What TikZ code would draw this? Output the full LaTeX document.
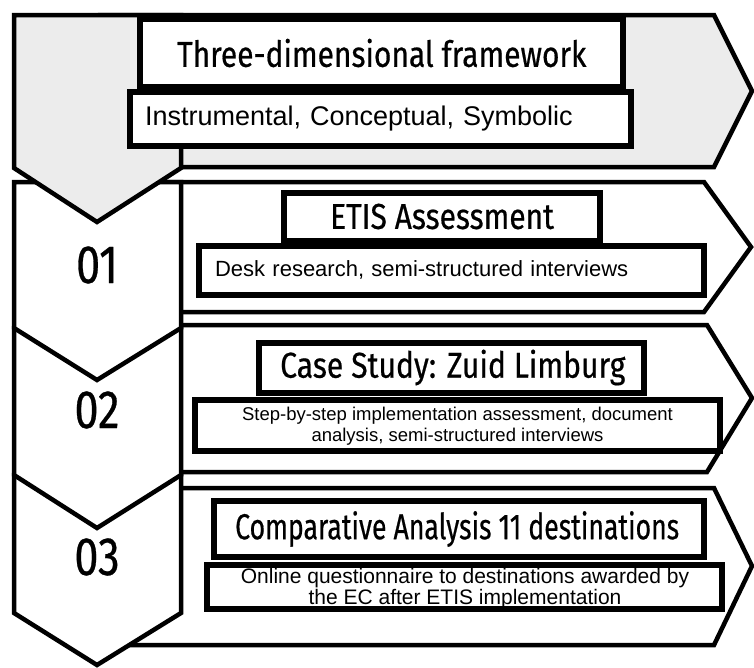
\documentclass[tikz,border=0pt]{standalone}
\usepackage{fontspec}
\setmainfont{Liberation Sans}
\newfontfamily\condfont[FakeStretch=0.80, FakeBold=0.5]{Fira Sans}

\newlength{\du}
\setlength{\du}{1pt}

\definecolor{shadecolor}{rgb}{0.925000, 0.925000, 0.925000}

\tikzset{
  shell/.style={draw=black, fill=white, line width=4.5\du, line join=miter},
  greyshell/.style={shell, fill=shadecolor},
  headbox/.style={draw=black, fill=white, line width=6\du, inner sep=0pt},
  headtext/.style={anchor=west, inner sep=0pt, font=\condfont\fontsize{36\du}{40\du}\selectfont},
  subbox/.style={draw=black, fill=white, line width=6\du, inner sep=0pt, align=center},
  numlabel/.style={font=\condfont\fontsize{54\du}{60\du}\selectfont}
}

\begin{document}
\begin{tikzpicture}
\pgftransformxscale{1.000000}
\pgftransformyscale{-1.000000}
\useasboundingbox (0\du,0\du) rectangle (754\du,667\du);
% row arrows
\draw[shell] (100\du,182\du)--(704\du,182\du)--(751\du,247\du)--(704\du,312\du)--(100\du,312\du)--cycle;
\draw[shell] (100\du,325\du)--(707\du,325\du)--(752\du,398\du)--(707\du,472\du)--(100\du,472\du)--cycle;
\draw[shell] (100\du,488\du)--(714\du,488\du)--(752\du,566\du)--(714\du,645\du)--(100\du,645\du)--cycle;
% number chevrons
\draw[shell] (14\du,475\du)--(181\du,475\du)--(181\du,613\du)--(97\du,665\du)--(14\du,613\du)--cycle;
\draw[shell] (14\du,328\du)--(181\du,328\du)--(181\du,475\du)--(97\du,528\du)--(14\du,475\du)--cycle;
\draw[shell] (14\du,182\du)--(181\du,182\du)--(181\du,328\du)--(97\du,380\du)--(14\du,328\du)--cycle;
% framework block
\draw[greyshell] (100\du,15\du)--(714\du,15\du)--(752\du,91\du)--(714\du,167\du)--(100\du,167\du)--cycle;
\draw[greyshell] (14\du,15\du)--(181\du,15\du)--(181\du,168\du)--(97\du,222\du)--(14\du,168\du)--cycle;

\node[numlabel] (num01) at (97\du,265\du) {01};
\node[numlabel] (num02) at (97\du,410\du) {02};
\node[numlabel] (num03) at (97\du,557\du) {03};

% framework
\node[headbox, minimum width=483\du, minimum height=68\du] (framebox) at (381.5\du,53\du) {};
\node[headtext] (frame) at (177\du,53\du) {\scalebox{1.04}[1]{Three-dimensional framework}};
\node[subbox, minimum width=501\du, minimum height=53.5\du, inner xsep=15\du, text width=471\du, align=left,
  font=\fontsize{27\du}{30\du}\selectfont] (dims) at (380.5\du,118.75\du) {Instrumental, Conceptual, Symbolic};

% 01
\node[headbox, minimum width=316\du, minimum height=48\du] (etisbox) at (442\du,216.5\du) {};
\node[headtext] (etis) at (330\du,216.5\du) {\scalebox{1.04}[1]{ETIS Assessment}};
\node[subbox, minimum width=505\du, minimum height=49\du, inner xsep=16\du, text width=473\du, align=left,
  font=\fontsize{22\du}{26\du}\selectfont] (desk) at (451.5\du,270\du) {Desk research, semi-structured interviews};

% 02
\node[headbox, minimum width=385\du, minimum height=50\du] (zuidbox) at (451.5\du,367.5\du) {};
\node[headtext] (zuid) at (280\du,367.5\du) {\scalebox{1.045}[1]{Case Study: Zuid Limburg}};
\node[subbox, minimum width=525\du, minimum height=51\du] (stepsbox) at (457.5\du,425.5\du) {};
\node[align=center, inner sep=0pt, font=\fontsize{18.5\du}{21.5\du}\selectfont] (steps) at (457.5\du,426\du)
  {Step-by-step implementation assessment, document\\analysis, semi-structured interviews};

% 03
\node[headbox, minimum width=490\du, minimum height=56\du] (compbox) at (459\du,529\du) {};
\node[headtext] (comp) at (235\du,529\du) {\scalebox{0.925}[1]{Comparative Analysis 11 destinations}};
\node[subbox, minimum width=515\du, minimum height=44\du] (onlinebox) at (464.5\du,587\du) {};
\node[align=center, inner sep=0pt, font=\fontsize{21\du}{20.5\du}\selectfont] (online) at (465\du,588.5\du)
  {Online questionnaire to destinations awarded by\\the EC after ETIS implementation};
\end{tikzpicture}
\end{document}
